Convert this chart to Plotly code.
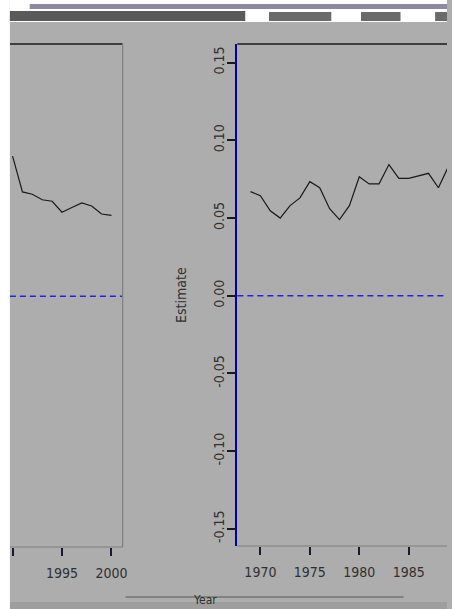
import plotly.graph_objects as go

# ---- data -------------------------------------------------------------
years_late = [1990, 1991, 1992, 1993, 1994, 1995, 1996, 1997, 1998, 1999, 2000]
est_late = [0.090, 0.067, 0.0655, 0.062, 0.061, 0.054, 0.057, 0.060, 0.058, 0.0528, 0.052]

years_early = [1969, 1970, 1971, 1972, 1973, 1974, 1975, 1976, 1977, 1978, 1979,
               1980, 1981, 1982, 1983, 1984, 1985, 1986, 1987, 1988, 1989]
est_early = [0.067, 0.0644, 0.0547, 0.050, 0.058, 0.063, 0.0734, 0.0695, 0.056, 0.049, 0.058,
             0.0766, 0.072, 0.072, 0.0844, 0.0755, 0.0755, 0.077, 0.0788, 0.0695, 0.083]

y_tickvals = [-0.15, -0.10, -0.05, 0.00, 0.05, 0.10, 0.15]
y_ticktext = ["-0.15", "-0.10", "-0.05", "0.00", "0.05", "0.10", "0.15"]
x_tickvals_late = [1990, 1995, 2000]
x_tickvals_early = [1970, 1975, 1980, 1985]
y_title = "Estimate"
x_title = "Year"

# ---- layout helpers (pixel -> paper) ------------------------------------
W, H = 452, 609
def fx(p):
    return p / W
def fy(p):
    return 1 - p / H

BG = "#ADADAD"
FONT = "Liberation Sans Narrow, DejaVu Sans Condensed, Arial Narrow, sans-serif"
TXT = "#303030"
YR = [-0.161, 0.162]
FS = 14

fig = go.Figure()
fig.add_trace(go.Scatter(x=years_late, y=est_late, mode="lines",
                         line=dict(color="#1a1a1a", width=1.2),
                         xaxis="x", yaxis="y", showlegend=False))
fig.add_trace(go.Scatter(x=years_early, y=est_early, mode="lines",
                         line=dict(color="#1a1a1a", width=1.2),
                         xaxis="x2", yaxis="y2", showlegend=False))

xcommon = dict(ticks="outside", ticklen=8, tickwidth=1.5, tickcolor="#1a1a2a",
               showgrid=False, zeroline=False, showline=False, ticklabelstandoff=5,
               tickfont=dict(family=FONT, size=FS, color=TXT))

fig.update_layout(
    width=W, height=H,
    margin=dict(l=0, r=0, t=0, b=0),
    paper_bgcolor=BG, plot_bgcolor=BG,
    font=dict(family=FONT, color=TXT),
    xaxis=dict(domain=[fx(10), fx(124)], range=[1989.73, 2001.13],
               tickvals=x_tickvals_late, anchor="y", **xcommon),
    yaxis=dict(domain=[fy(547), fy(44)], range=YR, anchor="x",
               showticklabels=False, ticks="", showgrid=False, zeroline=False,
               showline=False),
    xaxis2=dict(domain=[fx(240), 1], range=[1967.67, 1988.87],
                tickvals=x_tickvals_early, anchor="y2", **xcommon),
    yaxis2=dict(domain=[fy(546), fy(44)], range=YR, anchor="x2",
                tickvals=y_tickvals, ticktext=y_ticktext, tickangle=-90,
                ticks="outside", ticklen=9, tickwidth=1.5, tickcolor="#1a1a1a",
                ticklabelstandoff=-3,
                showgrid=False, zeroline=False,
                showline=True, linecolor="#0000A8", linewidth=1.5,
                tickfont=dict(family=FONT, size=FS, color=TXT)),
)

shapes = []
# zero reference lines
for xr, yr in (("x domain", "y"), ("x2 domain", "y2")):
    shapes.append(dict(type="line", xref=xr, yref=yr, x0=0, x1=1, y0=0, y1=0,
                       line=dict(color="#2424E0", width=1.5, dash="6px,4px")))
# panel frames
shapes += [
    dict(type="line", xref="x domain", yref="y domain", x0=0, x1=1, y0=1, y1=1,
         line=dict(color="#1a1a1a", width=1.5)),
    dict(type="line", xref="x domain", yref="y domain", x0=1, x1=1, y0=0, y1=1,
         line=dict(color="#808080", width=1.2)),
    dict(type="line", xref="x domain", yref="y domain", x0=0, x1=1, y0=0, y1=0,
         line=dict(color="#808080", width=1.2)),
    dict(type="line", xref="x2 domain", yref="y2 domain", x0=0, x1=1, y0=1, y1=1,
         line=dict(color="#1a1a1a", width=1.5)),
    dict(type="line", xref="x2 domain", yref="y2 domain", x0=0, x1=1, y0=0, y1=0,
         line=dict(color="#808080", width=1.2)),
]
# page edge on the left, header strip and footer strip
shapes += [
    dict(type="rect", xref="paper", yref="paper", x0=0, x1=fx(10), y0=0, y1=1,
         fillcolor="white", line=dict(width=0), layer="above"),
    dict(type="rect", xref="paper", yref="paper", x0=fx(10), x1=1, y0=fy(22), y1=1,
         fillcolor="white", line=dict(width=0), layer="above"),
    dict(type="rect", xref="paper", yref="paper", x0=fx(30), x1=1, y0=fy(9), y1=fy(4),
         fillcolor="#8A8AA4", line=dict(width=0), layer="above"),
    dict(type="rect", xref="paper", yref="paper", x0=fx(10), x1=fx(248), y0=fy(21), y1=fy(11),
         fillcolor="#5A5A5A", line=dict(width=0), layer="above"),
    dict(type="rect", xref="paper", yref="paper", x0=fx(272), x1=fx(335), y0=fy(21), y1=fy(12),
         fillcolor="#6A6A6A", line=dict(width=0), layer="above"),
    dict(type="rect", xref="paper", yref="paper", x0=fx(365), x1=fx(405), y0=fy(21), y1=fy(12),
         fillcolor="#6A6A6A", line=dict(width=0), layer="above"),
    dict(type="rect", xref="paper", yref="paper", x0=fx(440), x1=1, y0=fy(21), y1=fy(12),
         fillcolor="#6A6A6A", line=dict(width=0), layer="above"),
    dict(type="rect", xref="paper", yref="paper", x0=fx(10), x1=1, y0=0, y1=fy(602),
         fillcolor="#9E9E9E", line=dict(width=0), layer="below"),
    dict(type="line", xref="paper", yref="paper", x0=fx(127), x1=fx(408), y0=fy(597), y1=fy(597),
         line=dict(color="#555555", width=1)),
]
fig.update_layout(shapes=shapes)

fig.update_layout(annotations=[
    dict(text=y_title, xref="paper", yref="paper", x=fx(183), y=fy(295),
         textangle=-90, showarrow=False, font=dict(family=FONT, size=FS, color=TXT)),
    dict(text=x_title, xref="paper", yref="paper", x=fx(207), y=0,
         yanchor="bottom", showarrow=False, font=dict(family=FONT, size=12, color=TXT)),
])

# page background matches the chart's grey
fig.write_html(
    "out.html",
    post_script="document.body.style.background='#ADADAD';"
                "document.documentElement.style.background='#ADADAD';",
)
